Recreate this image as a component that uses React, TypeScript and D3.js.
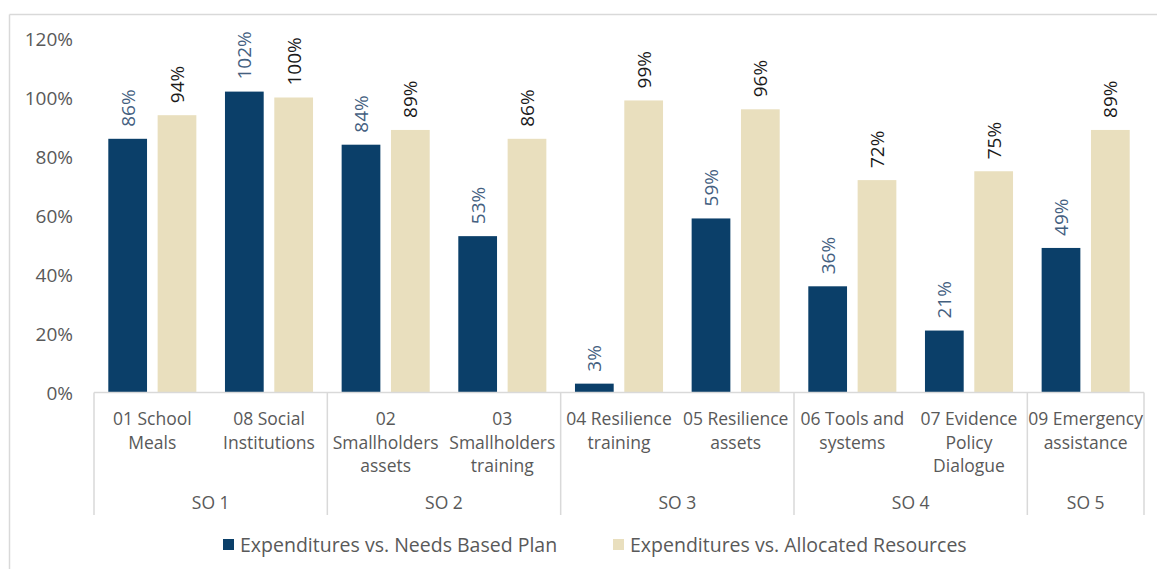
import React from "react";
import * as d3 from "d3";

const categories: string[][] = [
  ["01 School", "Meals"],
  ["08 Social", "Institutions"],
  ["02", "Smallholders", "assets"],
  ["03", "Smallholders", "training"],
  ["04 Resilience", "training"],
  ["05 Resilience", "assets"],
  ["06 Tools and", "systems"],
  ["07 Evidence", "Policy", "Dialogue"],
  ["09 Emergency", "assistance"],
];
const groups = [
  { name: "SO 1", count: 2 },
  { name: "SO 2", count: 2 },
  { name: "SO 3", count: 2 },
  { name: "SO 4", count: 2 },
  { name: "SO 5", count: 1 },
];
const needsBased = [0.86, 1.02, 0.84, 0.53, 0.03, 0.59, 0.36, 0.21, 0.49];
const allocated = [0.94, 1.0, 0.89, 0.86, 0.99, 0.96, 0.72, 0.75, 0.89];
const seriesNames = ["Expenditures vs. Needs Based Plan", "Expenditures vs. Allocated Resources"];
const yTicks = [0, 0.2, 0.4, 0.6, 0.8, 1.0, 1.2];

const W = 1157;
const H = 569;
const DARK = "#0B3F69";
const LIGHT = "#E9DFBE";
const AXIS = "#D9D9D9";
const TEXT = "#595959";
const FONT = "'Open Sans', sans-serif";

export default function App() {
  const x0 = d3
    .scaleBand<number>()
    .domain(d3.range(categories.length))
    .range([94, 1144])
    .padding(0);
  const x1 = d3
    .scaleBand<number>()
    .domain([0, 1])
    .range([0, x0.bandwidth()])
    .paddingInner(0.215)
    .paddingOuter(0.29);
  const y = d3.scaleLinear().domain([0, 1.2]).range([392.5, 38.5]);
  const fmt = d3.format(".0%");
  const series = [needsBased, allocated];
  const colors = [DARK, LIGHT];
  const labelColors = ["#44607F", "#1A1A1A"];

  let acc = 0;
  const groupBounds = groups.map((g) => {
    const start = acc;
    acc += g.count;
    return { ...g, x0: x0(start)!, x1: x0(acc - 1)! + x0.bandwidth() };
  });
  const yAxis = y(0);

  return (
    <svg
      width={W}
      height={H}
      style={{ position: "absolute", left: 0, top: 0, background: "#fff" }}
      fontFamily={FONT}
    >
      <line x1={9.5} y1={14.5} x2={W} y2={14.5} stroke={AXIS} strokeWidth={1.5} />
      <line x1={9.5} y1={14.5} x2={9.5} y2={H} stroke={AXIS} strokeWidth={1.5} />

      {yTicks.map((t) => (
        <text
          key={t}
          x={73}
          y={y(t)}
          textAnchor="end"
          dominantBaseline="central"
          fontSize={19}
          fill={TEXT}
        >
          {fmt(t)}
        </text>
      ))}

      {series.map((vals, s) =>
        vals.map((v, i) => {
          const bx = x0(i)! + x1(s)!;
          const by = y(v);
          return (
            <g key={`${s}-${i}`}>
              <rect x={bx} y={by} width={x1.bandwidth()} height={yAxis - by} fill={colors[s]} />
              <text
                transform={`translate(${bx + x1.bandwidth() / 2},${by - 12}) rotate(-90)`}
                textAnchor="start"
                dominantBaseline="central"
                fontSize={19}
                fill={labelColors[s]}
              >
                {fmt(v)}
              </text>
            </g>
          );
        })
      )}

      <line x1={94} y1={yAxis} x2={1144} y2={yAxis} stroke={AXIS} strokeWidth={1.5} />
      {[groupBounds[0].x0, ...groupBounds.map((g) => g.x1)].map((gx, i) => (
        <line key={i} x1={gx} y1={yAxis} x2={gx} y2={515} stroke={AXIS} strokeWidth={1.5} />
      ))}

      {categories.map((lines, i) => (
        <text
          key={i}
          x={x0(i)! + x0.bandwidth() / 2}
          textAnchor="middle"
          fontSize={17.5}
          fill={TEXT}
        >
          {lines.map((l, j) => (
            <tspan key={j} x={x0(i)! + x0.bandwidth() / 2} y={418 + j * 23.5} dominantBaseline="central">
              {l}
            </tspan>
          ))}
        </text>
      ))}

      {groupBounds.map((g) => (
        <text
          key={g.name}
          x={(g.x0 + g.x1) / 2}
          y={502}
          textAnchor="middle"
          dominantBaseline="central"
          fontSize={17.5}
          fill={TEXT}
        >
          {g.name}
        </text>
      ))}

      {seriesNames.map((name, s) => {
        const lx = s === 0 ? 223 : 613;
        return (
          <g key={name}>
            <rect x={lx} y={539} width={11} height={11} fill={colors[s]} />
            <text x={lx + 17} y={544.5} dominantBaseline="central" fontSize={19.5} fill={TEXT}>
              {name}
            </text>
          </g>
        );
      })}
    </svg>
  );
}
